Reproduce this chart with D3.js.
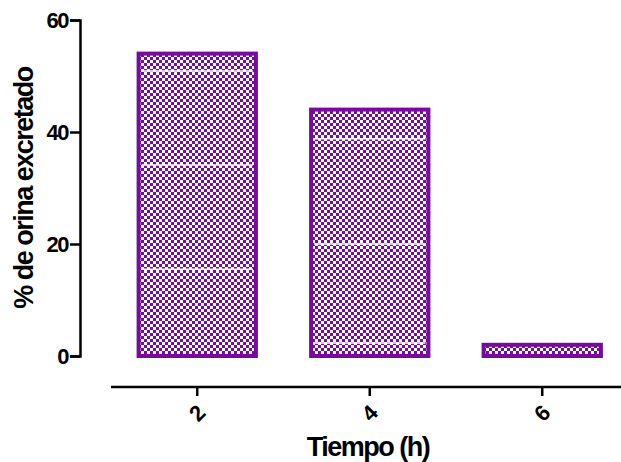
<!DOCTYPE html>
<html>
<head>
<meta charset="utf-8">
<script src="https://cdn.jsdelivr.net/npm/d3@7"></script>
<style>
  body { margin: 0; background: #fff; }
  text { font-family: "Liberation Sans", Arial, sans-serif; font-weight: bold; fill: #000; }
</style>
</head>
<body>
<div id="chart"></div>
<script>
// data
var tiempos = ["2", "4", "6"];
var porcentaje = [54, 44, 2];
// white separator lines inside each bar (replicate values)
var replicas = [[50.9, 34.1, 15.5], [38.8, 20, 2.3], []];
var yTicks = [0, 20, 40, 60];

var width = 621, height = 462;
var purple = "#780a9e";

var svg = d3.select("#chart").append("svg")
  .attr("width", width)
  .attr("height", height);

// checker pattern fill
var pat = svg.append("defs").append("pattern")
  .attr("id", "checker")
  .attr("patternUnits", "userSpaceOnUse")
  .attr("width", 6).attr("height", 6);
pat.append("rect").attr("width", 6).attr("height", 6).attr("fill", purple);
pat.append("rect").attr("x", 0).attr("y", 0).attr("width", 3).attr("height", 3).attr("fill", "#fff");
pat.append("rect").attr("x", 3).attr("y", 3).attr("width", 3).attr("height", 3).attr("fill", "#fff");

var x = d3.scaleBand()
  .domain(tiempos)
  .range([111, 628.5])
  .paddingInner(0.32)
  .paddingOuter(0.16);

var y = d3.scaleLinear()
  .domain([0, 60])
  .range([356, 20]);

// bars
svg.selectAll("rect.bar").data(porcentaje)
  .enter().append("rect")
  .attr("class", "bar")
  .attr("x", function (d, i) { return x(tiempos[i]); })
  .attr("y", function (d) { return y(d); })
  .attr("width", x.bandwidth())
  .attr("height", function (d) { return y(0) - y(d); })
  .attr("fill", "url(#checker)")
  .attr("stroke", purple)
  .attr("stroke-width", 4);

// separator lines
tiempos.forEach(function (t, i) {
  svg.selectAll(null).data(replicas[i])
    .enter().append("line")
    .attr("x1", x(t) + 3)
    .attr("x2", x(t) + x.bandwidth() - 3)
    .attr("y1", function (d) { return y(d); })
    .attr("y2", function (d) { return y(d); })
    .attr("stroke", "#fff")
    .attr("stroke-width", 1.5);
});

// y axis
var yAxis = svg.append("g")
  .attr("transform", "translate(80,0)")
  .call(d3.axisLeft(y).tickValues(yTicks).tickSize(10).tickPadding(2));
yAxis.select(".domain").attr("stroke-width", 2.5);
yAxis.selectAll(".tick line").attr("stroke-width", 2.5);
yAxis.selectAll("text")
  .style("font-size", "22px")
  .style("letter-spacing", "-1.5px")
  .style("font-family", "'Liberation Sans', Arial, sans-serif")
  .style("font-weight", "bold");

// x axis
var xAxis = svg.append("g")
  .attr("transform", "translate(0,387)")
  .call(d3.axisBottom(x).tickSize(9).tickSizeOuter(0));
xAxis.select(".domain").attr("d", "M111,0H621").attr("stroke-width", 2.5);
xAxis.selectAll(".tick line").attr("stroke-width", 2.5);
xAxis.selectAll("text")
  .style("font-size", "22px")
  .style("font-family", "'Liberation Sans', Arial, sans-serif")
  .style("font-weight", "bold")
  .attr("y", 0).attr("dy", 0)
  .attr("text-anchor", "middle")
  .attr("transform", "translate(0,26) rotate(-45)")
  .attr("dominant-baseline", "central");

// titles
svg.append("text")
  .attr("transform", "translate(33,188) rotate(-90)")
  .attr("text-anchor", "middle")
  .style("font-size", "27px")
  .style("letter-spacing", "-1.5px")
  .text("% de orina excretado");

svg.append("text")
  .attr("x", 368)
  .attr("y", 456)
  .attr("text-anchor", "middle")
  .style("font-size", "27px")
  .style("letter-spacing", "-1.5px")
  .text("Tiempo (h)");
</script>
</body>
</html>
